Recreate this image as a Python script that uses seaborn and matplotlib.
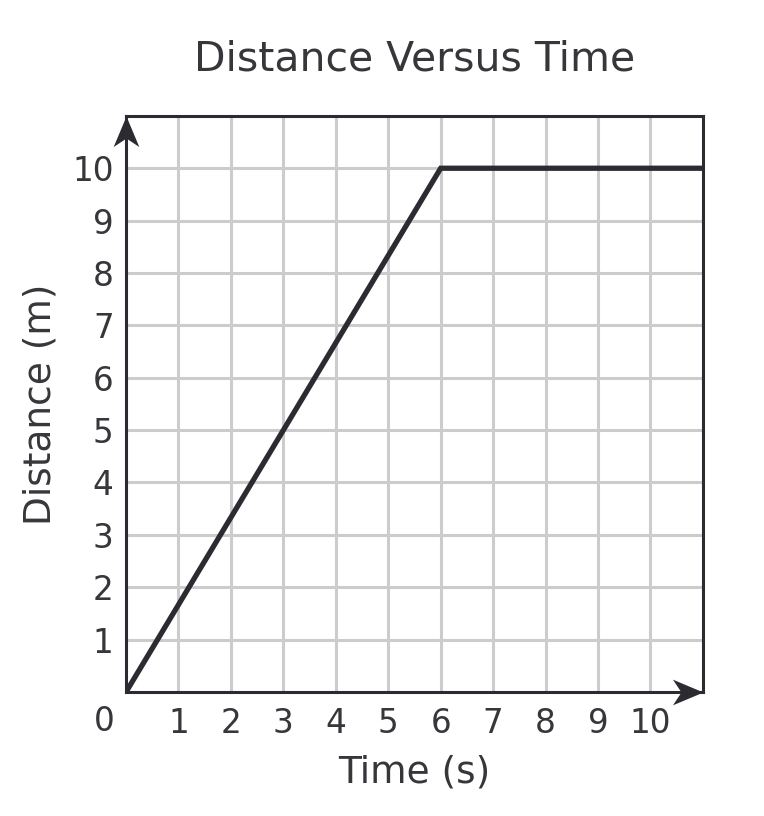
import numpy as np
import matplotlib.pyplot as plt
from matplotlib.path import Path
import pandas as pd
import seaborn as sns

# Data
time_s = [0, 6, 11]
distance_m = [0, 10, 10]
x_ticks = [1, 2, 3, 4, 5, 6, 7, 8, 9, 10]
y_ticks = [1, 2, 3, 4, 5, 6, 7, 8, 9, 10]

sns.set_style('white')
plt.rcParams['font.family'] = ['DejaVu Sans']

txt = '#36363b'
dark = '#2b2b31'

df = pd.DataFrame({'Time': time_s, 'Distance': distance_m})

fig = plt.figure(figsize=(7.64, 8.16), dpi=100)
ax = fig.add_axes([0.165, 0.152, 0.755, 0.706])

# grid lines every unit
for v in range(1, 11):
    ax.axvline(v, color='#cccccc', lw=2.2, zorder=1)
    ax.axhline(v, color='#cccccc', lw=2.2, zorder=1)

sns.lineplot(data=df, x='Time', y='Distance', ax=ax, color=dark, lw=3.8,
             zorder=3, solid_joinstyle='miter')

ax.set_xlim(0, 11)
ax.set_ylim(0, 11)
ax.set_xticks(x_ticks)
ax.set_yticks(y_ticks)
ax.tick_params(length=0, labelsize=23.5, colors=txt)
ax.tick_params(axis='y', pad=9)
ax.tick_params(axis='x', pad=11)
for s in ax.spines.values():
    s.set_color(dark)
    s.set_linewidth(2.2)
    s.set_zorder(4)

# origin label
ax.annotate('0', xy=(0, 0), xytext=(-16, -21), textcoords='offset points',
            ha='center', va='center', fontsize=23.5, color=txt,
            annotation_clip=False)

# stealth-style arrowheads at the axis ends
right_head = Path([(0, 0), (-1, 0.42), (-0.72, 0), (-1, -0.42), (0, 0)],
                  [Path.MOVETO, Path.LINETO, Path.LINETO, Path.LINETO, Path.CLOSEPOLY])
up_head = Path([(0, 0), (0.42, -1), (0, -0.72), (-0.42, -1), (0, 0)],
               [Path.MOVETO, Path.LINETO, Path.LINETO, Path.LINETO, Path.CLOSEPOLY])
ax.plot([0], [11], marker=up_head, markersize=44, color=dark, mew=0,
        clip_on=False, zorder=5)
ax.plot([11], [0], marker=right_head, markersize=44, color=dark, mew=0,
        clip_on=False, zorder=5)

ax.set_xlabel('Time (s)', fontsize=27, color=txt, labelpad=10)
ax.set_ylabel('Distance (m)', fontsize=27, color=txt, labelpad=10)
ax.set_title('Distance Versus Time', fontsize=29.5, color=txt, pad=33)

fig.savefig('out.png', dpi=100)
